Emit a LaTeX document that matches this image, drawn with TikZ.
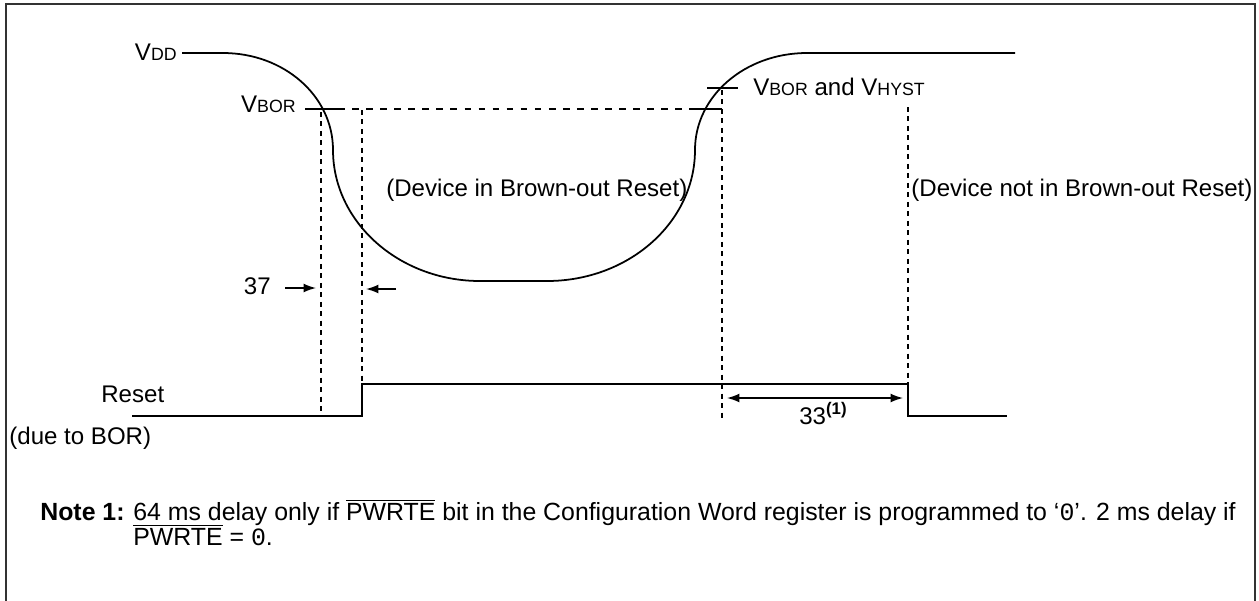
\documentclass[tikz,border=0pt]{standalone}
\usepackage{fontspec}
\setmainfont{Liberation Sans}
\setmonofont{Liberation Mono}
\usetikzlibrary{positioning,arrows.meta}
\newcommand{\lowcap}[1]{{\fontsize{10.1}{12}\selectfont #1}}
\tikzset{
  lbl/.style={inner sep=0pt, font=\fontsize{13.7}{16}\selectfont},
  notelbl/.style={inner sep=0pt, font=\fontsize{14.15}{16}\selectfont},
  sig/.style={line width=1pt},
  guide/.style={line width=0.8pt, dash pattern=on 2.8pt off 2.6pt},
  level/.style={line width=0.8pt, dash pattern=on 3.8pt off 4.2pt},
  tick/.style={line width=0.8pt},
  dim/.style={line width=0.8pt, >={Latex[length=7pt,width=5pt]}}
}

\begin{document}
\begin{tikzpicture}[x=0.02cm,y=-0.02cm]
  \useasboundingbox (0,0) rectangle (1259,600);
  \clip (0,0) rectangle (1259,600);
  \draw[line width=1.2pt, black!80] (6,620) -- (6,4) -- (1255,4) -- (1255,620);

  \node[lbl, anchor=base east] (vdd) at (177,60) {V\lowcap{DD}};
  \node[lbl, anchor=base east] (vbor) at (296,112) {V\lowcap{BOR}};
  \node[lbl, anchor=base west] (vhyst) at (753,95) {V\lowcap{BOR} and V\lowcap{HYST}};
  \node[lbl, anchor=base west] (inbor) at (386,196) {(Device in Brown-out Reset)};
  \node[lbl, anchor=base west] (outbor) at (911,196) {(Device not in Brown-out Reset)};
  \node[lbl, anchor=base east] (t37) at (271,294) {37};
  \node[lbl, anchor=base west] (reset) at (101,402) {Reset};
  \node[lbl, anchor=base west] (dueto) at (9,444) {(due to BOR)};
  \node[lbl, anchor=base west] (t33) at (799,424) {33\textsuperscript{\textbf{(1)}}};

  \draw[sig] (182,53) -- (223,53) .. controls (284,53) and (333,96) .. (333,150)
    .. controls (333,222) and (399,281) .. (480,281) -- (547,281)
    .. controls (629,281) and (695,222) .. (695,150)
    .. controls (695,96) and (745,53) .. (807,53) -- (1015,53);

  \draw[tick] (305,109) -- (338,109);
  \draw[level] (338,109) -- (690,109);
  \draw[tick] (690,109) -- (722,109);
  \draw[tick] (707,88) -- (738,88);

  \draw[guide] (321,112) -- (321,412);
  \draw[guide] (362,110) -- (362,416);
  \draw[guide] (722,90) -- (722,418);
  \draw[guide] (908,107) -- (908,384);

  \draw[sig] (132,416) -- (362,416) -- (362,384) -- (908,384) -- (908,416) -- (1007,416);

  \draw[dim,->] (285,288) -- (316,288);
  \draw[dim,->] (396,289) -- (366,289);
  \draw[dim,<->] (727,398) -- (903,398);

  \node[notelbl, anchor=base west] (note) at (40,520) {\textbf{Note 1:}};
  \node[notelbl, anchor=base west] (noteA) at (133,520) {64 ms delay only if $\overline{\hbox{PWRTE}}$ bit in the Configuration Word register is programmed to `\texttt{0}'. 2 ms delay if};
  \node[notelbl, anchor=base west] (noteB) at (133,545) {$\overline{\hbox{PWRTE}}$ = \texttt{0}.};
\end{tikzpicture}
\end{document}
